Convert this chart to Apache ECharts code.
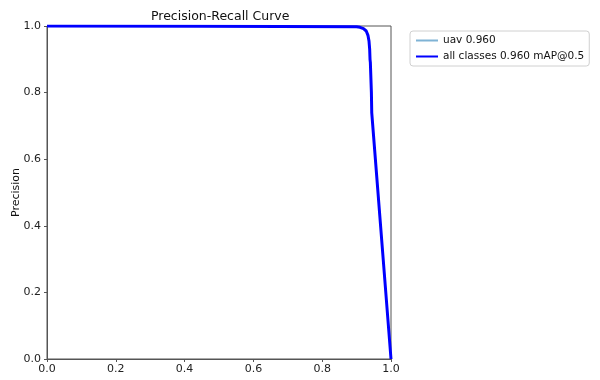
<!DOCTYPE html>
<html>
<head>
<meta charset="utf-8">
<script src="https://cdn.jsdelivr.net/npm/echarts@6/dist/echarts.min.js"></script>
<style>html,body{margin:0;padding:0;background:#fff}#c{width:600px;height:380px}</style>
</head>
<body>
<div id="c"></div>
<script>
var recall =    [0.0, 0.45, 0.90, 0.910, 0.920, 0.928, 0.933, 0.936, 0.938, 0.939, 0.940, 0.941, 0.943, 0.944, 1.0];
var precUav =   [1.0, 0.999, 0.998, 0.996, 0.992, 0.985, 0.972, 0.955, 0.93, 0.90, 0.89, 0.86, 0.80, 0.74, 0.0];
var precAll =   [1.0, 0.999, 0.998, 0.996, 0.992, 0.985, 0.972, 0.955, 0.93, 0.90, 0.89, 0.86, 0.80, 0.74, 0.0];
var seriesNames = ['uav 0.960', 'all classes 0.960 mAP@0.5'];
var ticks = [0, 0.2, 0.4, 0.6, 0.8, 1.0];

function pairs(xs, ys) { return xs.map(function (x, i) { return [x, ys[i]]; }); }

var chart = echarts.init(document.getElementById('c'), null, {renderer: 'canvas'});
var font = 'DejaVu Sans';
chart.setOption({
  animation: false,
  backgroundColor: '#fff',
  title: {
    text: 'Precision-Recall Curve', left: 146, top: 5,
    textStyle: {fontFamily: font, fontSize: 12.5, fontWeight: 'normal', color: '#111'}
  },
  grid: {left: 47, right: 209, top: 26, bottom: 21, outerBoundsMode: 'none', containLabel: false,
         show: true, borderColor: '#555', borderWidth: 1, backgroundColor: 'transparent'},
  legend: {
    left: 410, top: 31, orient: 'vertical', itemWidth: 22, itemHeight: 10, itemGap: 5,
    padding: [4, 5, 4, 5], borderColor: '#d0d0d0', borderWidth: 1, borderRadius: 3,
    itemStyle: {opacity: 0},
    textStyle: {fontFamily: font, fontSize: 10.5, color: '#111'},
    data: seriesNames
  },
  xAxis: {
    type: 'value', min: 0, max: 1, interval: 0.2,
    name: 'Recall', nameLocation: 'middle', nameGap: 23, nameMoveOverlap: false,
    nameTextStyle: {fontFamily: font, fontSize: 11, color: '#111'},
    axisLine: {show: true, lineStyle: {color: '#555'}},
    axisTick: {show: true, length: 3, lineStyle: {color: '#555'}},
    axisLabel: {fontFamily: font, fontSize: 11, color: '#222', margin: 5, formatter: function (v) { return v.toFixed(1); }},
    splitLine: {show: false}
  },
  yAxis: {
    type: 'value', min: 0, max: 1, interval: 0.2,
    name: 'Precision', nameLocation: 'middle', nameGap: 25, nameMoveOverlap: false,
    nameTextStyle: {fontFamily: font, fontSize: 11, color: '#111'},
    axisLine: {show: true, lineStyle: {color: '#555'}},
    axisTick: {show: true, length: 3, lineStyle: {color: '#555'}},
    axisLabel: {fontFamily: font, fontSize: 11, color: '#222', margin: 6, formatter: function (v) { return v.toFixed(1); }},
    splitLine: {show: false}
  },
  series: [
    {name: seriesNames[0], type: 'line', symbol: 'none', data: pairs(recall, precUav),
     lineStyle: {color: '#7fb3d5', width: 1.5}, itemStyle: {color: '#7fb3d5'}, z: 2},
    {name: seriesNames[1], type: 'line', symbol: 'none', data: pairs(recall, precAll),
     lineStyle: {color: '#0000ff', width: 3}, itemStyle: {color: '#0000ff'}, z: 3}
  ]
});
</script>
</body>
</html>
